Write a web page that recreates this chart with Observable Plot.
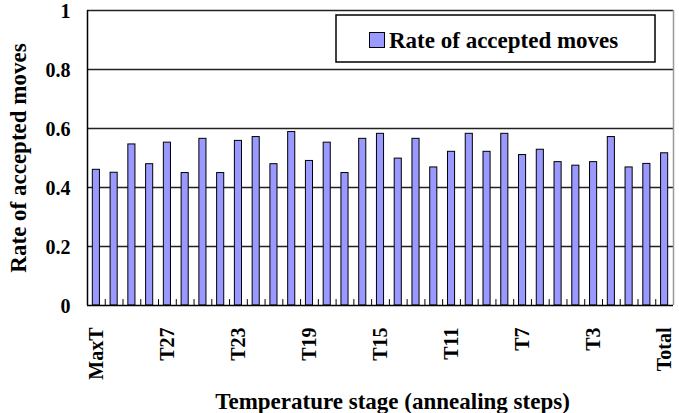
<!DOCTYPE html>
<html>
<head>
<meta charset="utf-8">
<script src="https://cdn.jsdelivr.net/npm/d3@7"></script>
<script src="https://cdn.jsdelivr.net/npm/@observablehq/plot@0.6"></script>
<style>
  html, body { margin: 0; padding: 0; background: #fff; }
  #chart { position: relative; width: 679px; height: 413px; overflow: hidden; }
</style>
</head>
<body>
<div id="chart"></div>
<script>
const categories = ["MaxT","T30","T29","T28","T27","T26","T25","T24","T23","T22","T21","T20","T19","T18","T17","T16","T15","T14","T13","T12","T11","T10","T9","T8","T7","T6","T5","T4","T3","T2","T1","T0","Total"];
const rates = [0.460,0.450,0.546,0.479,0.552,0.449,0.565,0.449,0.558,0.571,0.479,0.588,0.490,0.552,0.449,0.565,0.582,0.498,0.565,0.468,0.521,0.582,0.521,0.582,0.510,0.528,0.486,0.474,0.486,0.571,0.468,0.480,0.516];
const xTickLabels = ["MaxT","T27","T23","T19","T15","T11","T7","T3","Total"];
const yTicks = [0, 0.2, 0.4, 0.6, 0.8, 1];
const seriesName = "Rate of accepted moves";
const xTitle = "Temperature stage (annealing steps)";
const yTitle = "Rate of accepted moves";

const data = categories.map((c, i) => ({stage: c, rate: rates[i]}));

const W = 679, H = 413;
const mL = 87, mR = 6, mT = 10, mB = 108;
const step = (W - mL - mR) / categories.length;
const font = "'Liberation Serif', 'Times New Roman', serif";

const plot = Plot.plot({
  width: W,
  height: H,
  marginLeft: mL,
  marginRight: mR,
  marginTop: mT,
  marginBottom: mB,
  style: {fontFamily: font, fontWeight: "bold", fontSize: "20px", color: "#000", background: "#fff", overflow: "visible"},
  x: {type: "band", domain: categories, paddingInner: 0.6, paddingOuter: 0.3, round: false, label: null},
  y: {domain: [0, 1], label: null},
  marks: [
    Plot.ruleY(yTicks.filter(d => d > 0), {stroke: "#222", strokeWidth: 1.3}),
    Plot.ruleX([categories[categories.length - 1]], {dx: step / 2, stroke: "#999", strokeWidth: 1.5}),
    Plot.barY(data, {x: "stage", y: "rate", fill: "#9999FF", stroke: "#000", strokeWidth: 1}),
    Plot.ruleX(categories, {x: d => d, dx: -step / 2, y1: 0, y2: 0.02, stroke: "#000", strokeWidth: 1}),
    Plot.ruleY([0], {stroke: "#000", strokeWidth: 1.5}),
    Plot.ruleX([categories[0]], {dx: -step / 2, stroke: "#000", strokeWidth: 1.5}),
    Plot.axisY({ticks: yTicks, tickFormat: d => String(d), tickSize: 0, tickPadding: 17, fontSize: 20, fontFamily: font, label: null, dy: 1}),
    Plot.axisX({ticks: xTickLabels, tickRotate: -90, tickSize: 0, tickPadding: 22, fontSize: 20, fontFamily: font, label: null}),
    Plot.text([yTitle], {text: d => d, frameAnchor: "left", textAnchor: "middle", dx: -69, rotate: -90, fontSize: 23, fontWeight: "bold", fontFamily: font}),
    Plot.text([xTitle], {text: d => d, frameAnchor: "bottom", textAnchor: "middle", dx: 12, dy: 103, fontSize: 23, fontWeight: "bold", fontFamily: font})
  ]
});

document.getElementById("chart").appendChild(plot);

// Legend (drawn inside the plot area, top right)
const svg = d3.select(plot);
const lg = svg.append("g").attr("class", "legend");
lg.append("rect").attr("x", 336).attr("y", 15).attr("width", 319).attr("height", 47)
  .attr("fill", "#fff").attr("stroke", "#000").attr("stroke-width", 1.5);
lg.append("rect").attr("x", 369.5).attr("y", 32.5).attr("width", 15).attr("height", 15)
  .attr("fill", "#9999FF").attr("stroke", "#000").attr("stroke-width", 1);
lg.append("text").attr("x", 389).attr("y", 47.5).attr("text-anchor", "start").text(seriesName)
  .attr("font-family", font).attr("font-weight", "bold").attr("font-size", 23).attr("fill", "#000");
</script>
</body>
</html>
